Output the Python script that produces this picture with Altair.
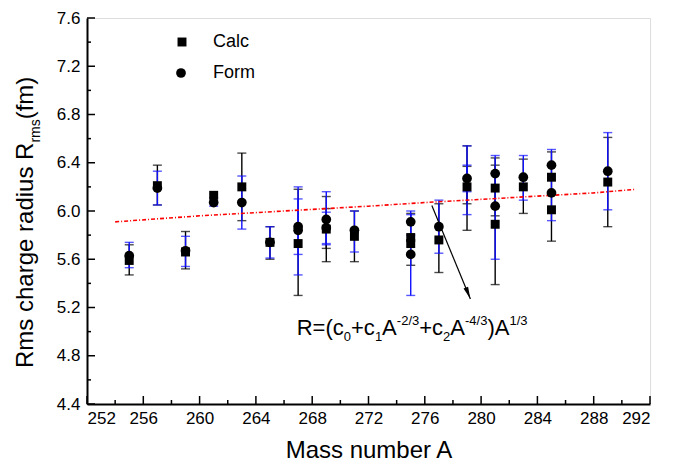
import altair as alt
import pandas as pd

# ---------------- data ----------------
calc_A = [255, 257, 259, 261, 263, 265, 267, 269, 271, 275, 275, 277, 279, 281, 281, 283, 285, 285, 289]
calc_R = [5.59, 6.21, 5.66, 6.13, 6.20, 5.74, 5.73, 5.85, 5.79, 5.78, 5.73, 5.76, 6.20, 6.19, 5.89, 6.20, 6.28, 6.01, 6.24]

form_A = [255, 257, 259, 261, 263, 265, 267, 267, 269, 269, 271, 275, 275, 277, 279, 281, 281, 283, 285, 285, 289]
form_R = [5.63, 6.19, 5.67, 6.07, 6.07, 5.74, 5.87, 5.84, 5.93, 5.86, 5.84, 5.91, 5.64, 5.87, 6.27, 6.31, 6.04, 6.28, 6.38, 6.15, 6.33]

calc_err_A = [255, 257, 259, 263, 265, 267, 269, 269, 271, 275, 277, 279, 279, 281, 281, 283, 285, 289]
calc_err_lo = [5.47, 6.05, 5.52, 5.92, 5.60, 5.30, 5.58, 5.69, 5.58, 5.55, 5.49, 5.84, 6.06, 5.39, 5.96, 5.98, 5.75, 5.87]
calc_err_hi = [5.72, 6.38, 5.83, 6.48, 5.87, 6.18, 6.12, 6.02, 6.00, 5.98, 6.06, 6.54, 6.37, 6.38, 6.44, 6.43, 6.49, 6.61]

form_err_A = [255, 257, 259, 261, 263, 265, 267, 267, 269, 269, 271, 275, 275, 277, 279, 279, 281, 283, 285, 289]
form_err_lo = [5.53, 6.05, 5.54, 6.04, 5.85, 5.61, 5.64, 5.47, 5.73, 5.72, 5.66, 5.30, 5.80, 5.65, 5.97, 6.16, 5.60, 6.09, 5.92, 6.01]
form_err_hi = [5.74, 6.33, 5.79, 6.11, 6.29, 5.87, 6.10, 6.20, 6.16, 5.99, 6.00, 6.00, 5.97, 6.09, 6.54, 6.38, 6.46, 6.46, 6.51, 6.65]

fit_A = [254, 260, 266, 272, 276, 282, 288, 291]
fit_R = [5.91, 5.96, 6.00, 6.04, 6.07, 6.11, 6.15, 6.18]

arrow_A = [276.5, 279.24]
arrow_R = [6.045, 5.27]

x_major = list(range(252, 293, 4))
x_minor = list(range(254, 292, 4))
y_major = [4.4, 4.8, 5.2, 5.6, 6.0, 6.4, 6.8, 7.2, 7.6]
y_minor = [4.6, 5.0, 5.4, 5.8, 6.2, 6.6, 7.0, 7.4]

# ---------------- layout ----------------
W, H = 563, 386
FONT = "Liberation Sans"

xs = alt.Scale(domain=[252, 292], nice=False, zero=False)
ys = alt.Scale(domain=[4.4, 7.6], nice=False, zero=False)

calc_df = pd.DataFrame({"A": calc_A, "R": calc_R})
form_df = pd.DataFrame({"A": form_A, "R": form_R})
cerr_df = pd.DataFrame({"A": calc_err_A, "lo": calc_err_lo, "hi": calc_err_hi})
ferr_df = pd.DataFrame({"A": form_err_A, "lo": form_err_lo, "hi": form_err_hi})
fit_df = pd.DataFrame({"A": fit_A, "R": fit_R})

x_axis = alt.Axis(values=x_major, tickSize=0, labelFontSize=17, labelFont=FONT, labelColor="black",
                  labelPadding=6, labelOverlap=False, title="Mass number A", titleFont=FONT,
                  titleFontSize=24, titleFontWeight="normal", titleColor="black", titlePadding=12,
                  domainColor="black", domainWidth=2, grid=False)
y_axis = alt.Axis(values=y_major, format=".1f", tickSize=0, labelFontSize=17, labelFont=FONT,
                  labelColor="black", labelPadding=7, labelOverlap=False, title=None,
                  domainColor="black", domainWidth=2, grid=False)

base_x = alt.X("A:Q", scale=xs, axis=x_axis)
base_y = alt.Y("R:Q", scale=ys, axis=y_axis)


def errbars(df, color):
    rule = alt.Chart(df).mark_rule(color=color, strokeWidth=1.4).encode(
        x=alt.X("A:Q", scale=xs, axis=x_axis),
        y=alt.Y("lo:Q", scale=ys, axis=y_axis),
        y2="hi:Q")
    cap_lo = alt.Chart(df).mark_tick(color=color, orient="horizontal", size=9, thickness=1.4).encode(
        x=alt.X("A:Q", scale=xs, axis=x_axis), y=alt.Y("lo:Q", scale=ys, axis=y_axis))
    cap_hi = alt.Chart(df).mark_tick(color=color, orient="horizontal", size=9, thickness=1.4).encode(
        x=alt.X("A:Q", scale=xs, axis=x_axis), y=alt.Y("hi:Q", scale=ys, axis=y_axis))
    return [rule, cap_lo, cap_hi]


layers = []
layers += errbars(cerr_df, "black")
layers += errbars(ferr_df, "#1010ff")

fit = alt.Chart(fit_df).mark_line(color="#ff0000", strokeWidth=1.6, strokeDash=[4, 2, 1, 2]).encode(
    x=base_x, y=base_y)
layers.append(fit)

squares = alt.Chart(calc_df).mark_point(shape="square", filled=True, color="black", size=80, opacity=1).encode(
    x=base_x, y=base_y)
circles = alt.Chart(form_df).mark_point(shape="circle", filled=True, color="black", size=95, opacity=1).encode(
    x=base_x, y=base_y)
layers += [squares, circles]

# inward ticks
xt_major = alt.Chart(pd.DataFrame({"A": x_major})).mark_rule(color="black", strokeWidth=1.5).encode(
    x=alt.X("A:Q", scale=xs, axis=x_axis), y=alt.value(H), y2=alt.value(H - 8))
xt_minor = alt.Chart(pd.DataFrame({"A": x_minor})).mark_rule(color="black", strokeWidth=1.5).encode(
    x=alt.X("A:Q", scale=xs, axis=x_axis), y=alt.value(H), y2=alt.value(H - 4))
yt_major = alt.Chart(pd.DataFrame({"R": y_major})).mark_rule(color="black", strokeWidth=1.5).encode(
    y=alt.Y("R:Q", scale=ys, axis=y_axis), x=alt.value(0), x2=alt.value(8))
yt_minor = alt.Chart(pd.DataFrame({"R": y_minor})).mark_rule(color="black", strokeWidth=1.5).encode(
    y=alt.Y("R:Q", scale=ys, axis=y_axis), x=alt.value(0), x2=alt.value(4))
layers += [xt_major, xt_minor, yt_major, yt_minor]

# arrow
arrow_df = pd.DataFrame({"A": [arrow_A[0]], "R": [arrow_R[0]], "A2": [arrow_A[1]], "R2": [arrow_R[1]]})
arrow_line = alt.Chart(arrow_df).mark_rule(color="black", strokeWidth=1.2).encode(
    x=alt.X("A:Q", scale=xs, axis=x_axis), y=alt.Y("R:Q", scale=ys, axis=y_axis), x2="A2:Q", y2="R2:Q")
arrow_head = alt.Chart(pd.DataFrame({"A": [arrow_A[1]], "R": [arrow_R[1]]})).mark_point(
    shape="M0,0 L-0.4,-2 L0.4,-2 Z", filled=True, color="black", size=150, angle=338, opacity=1).encode(
    x=base_x, y=base_y)
layers += [arrow_line, arrow_head]

# formula annotation  R=(c0+c1A^-2/3+c2A^-4/3)A^1/3
formula_anchor = pd.DataFrame({"A": [266.9], "R": [4.973]})
pieces = [
    ("R=(c", 0.0, 0, 22),
    ("0", 47.1, 6, 13),
    ("+c", 54.3, 0, 22),
    ("1", 78.2, 6, 13),
    ("A", 85.4, 0, 22),
    ("-2/3", 100.1, -10, 13),
    ("+c", 122.5, 0, 22),
    ("2", 146.3, 6, 13),
    ("A", 153.6, 0, 22),
    ("-4/3", 168.3, -10, 13),
    (")A", 190.7, 0, 22),
    ("1/3", 212.7, -10, 13),
]
for txt, dx, dy, fs in pieces:
    layers.append(alt.Chart(formula_anchor).mark_text(
        text=txt, dx=dx, dy=dy, fontSize=fs, font=FONT, align="left", baseline="alphabetic", color="black"
    ).encode(x=base_x, y=base_y))

# legend (drawn by hand)
leg_sq = alt.Chart(pd.DataFrame({"k": ["Calc"]})).mark_point(
    shape="square", filled=True, color="black", size=80, opacity=1).encode(x=alt.value(95), y=alt.value(24))
leg_ci = alt.Chart(pd.DataFrame({"k": ["Form"]})).mark_point(
    shape="circle", filled=True, color="black", size=95, opacity=1).encode(x=alt.value(94), y=alt.value(55))
leg_t1 = alt.Chart(pd.DataFrame({"k": ["Calc"]})).mark_text(
    align="left", baseline="middle", fontSize=18, font=FONT, color="black").encode(
    x=alt.value(126), y=alt.value(24), text="k:N")
leg_t2 = alt.Chart(pd.DataFrame({"k": ["Form"]})).mark_text(
    align="left", baseline="middle", fontSize=18, font=FONT, color="black").encode(
    x=alt.value(126), y=alt.value(55), text="k:N")
layers += [leg_sq, leg_ci, leg_t1, leg_t2]

# y title with subscript: "Rms charge radius R_rms(fm)"
ytitle_anchor = pd.DataFrame({"k": [0]})
ypieces = [
    ("Rms charge radius R", 0.0, 0, 24),
    ("rms", 225.4, 7, 14),
    ("(fm)", 248.7, 0, 24),
]
for txt, dx, dy, fs in ypieces:
    layers.append(alt.Chart(ytitle_anchor).mark_text(
        text=txt, dx=dx, dy=dy, fontSize=fs, font=FONT, align="left", baseline="alphabetic",
        angle=270, color="black").encode(x=alt.value(-54), y=alt.value(350)))

chart = alt.layer(*layers).properties(
    width=W, height=H,
    autosize=alt.AutoSizeParams(type="none"),
    padding={"left": 79, "top": 10, "right": 33, "bottom": 61},
).configure_view(stroke="black", strokeWidth=1.5).configure(background="white")

chart.save("out.html", embed_options={"renderer": "svg", "actions": False})
